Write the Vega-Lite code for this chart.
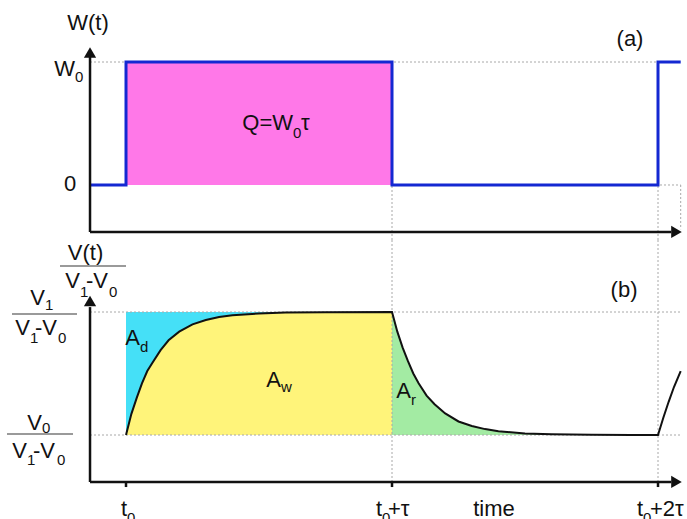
{
  "$schema": "https://vega.github.io/schema/vega-lite/v6.json",
  "autosize": {"type": "pad"},
  "padding": 0,
  "spacing": 0,
  "bounds": "flush",
  "background": "white",
  "config": {"view": {"stroke": null}},
  "resolve": {"scale": {"x": "independent", "y": "independent"}},
  "datasets": {
    "pulse": [{"t": 0, "t2": 1, "y": 0, "y2": 1}],
    "W": [
      {"t": -0.1353, "y": 0},
      {"t": 0, "y": 1},
      {"t": 1, "y": 0},
      {"t": 2, "y": 1},
      {"t": 2.0853, "y": 1}
    ],
    "guidesA": [
      {"t": -0.1353, "t2": 2.0853, "y": 1, "y2": 1},
      {"t": 1, "t2": 2.0853, "y": 0, "y2": 0},
      {"t": 1, "t2": 1, "y": 1, "y2": -0.4472},
      {"t": 2, "t2": 2, "y": 1, "y2": -0.4472},
      {"t": 2.0853, "t2": 2.0853, "y": 0, "y2": -0.36}
    ],
    "axesA": [
      {"t": -0.1353, "t2": -0.1353, "y": -0.382, "y2": 1.05},
      {"t": -0.1353, "t2": 2.05, "y": -0.382, "y2": -0.382}
    ],
    "centerA": [
      {"t": -0.1429, "y": 1.26, "text": "W(t)"},
      {"t": -0.2105, "y": -0.049, "text": "0"},
      {"t": 1.8947, "y": 1.13, "text": "(a)"}
    ],
    "mainA": [
      {"t": -0.1917, "y": 0.886, "text": "W"},
      {"t": 0.6278, "y": 0.447, "text": "Q=W"}
    ],
    "subA": [
      {"t": -0.1917, "y": 0.837, "text": "0"},
      {"t": 0.6278, "y": 0.382, "text": "0"}
    ],
    "contA": [
      {"t": 0.6579, "y": 0.447, "text": "τ"}
    ],
    "fill": [{"t": 0, "t2": 1, "y": 0, "y2": 1}],
    "V": [
      {"t": 0, "y": 0, "phase": "rise"},
      {"t": 0.02, "y": 0.17, "phase": "rise"},
      {"t": 0.04, "y": 0.3, "phase": "rise"},
      {"t": 0.06, "y": 0.42, "phase": "rise"},
      {"t": 0.08, "y": 0.52, "phase": "rise"},
      {"t": 0.1, "y": 0.59, "phase": "rise"},
      {"t": 0.13, "y": 0.69, "phase": "rise"},
      {"t": 0.16, "y": 0.77, "phase": "rise"},
      {"t": 0.2, "y": 0.84, "phase": "rise"},
      {"t": 0.25, "y": 0.9, "phase": "rise"},
      {"t": 0.3, "y": 0.935, "phase": "rise"},
      {"t": 0.35, "y": 0.96, "phase": "rise"},
      {"t": 0.4, "y": 0.973, "phase": "rise"},
      {"t": 0.5, "y": 0.988, "phase": "rise"},
      {"t": 0.6, "y": 0.995, "phase": "rise"},
      {"t": 0.75, "y": 0.999, "phase": "rise"},
      {"t": 1.0, "y": 1.0, "phase": "rise"},
      {"t": 1.0, "y": 1.0, "phase": "decay"},
      {"t": 1.02, "y": 0.84, "phase": "decay"},
      {"t": 1.04, "y": 0.71, "phase": "decay"},
      {"t": 1.06, "y": 0.6, "phase": "decay"},
      {"t": 1.08, "y": 0.5, "phase": "decay"},
      {"t": 1.1, "y": 0.42, "phase": "decay"},
      {"t": 1.13, "y": 0.32, "phase": "decay"},
      {"t": 1.16, "y": 0.25, "phase": "decay"},
      {"t": 1.2, "y": 0.175, "phase": "decay"},
      {"t": 1.25, "y": 0.11, "phase": "decay"},
      {"t": 1.3, "y": 0.073, "phase": "decay"},
      {"t": 1.35, "y": 0.048, "phase": "decay"},
      {"t": 1.4, "y": 0.031, "phase": "decay"},
      {"t": 1.5, "y": 0.013, "phase": "decay"},
      {"t": 1.6, "y": 0.006, "phase": "decay"},
      {"t": 1.75, "y": 0.0015, "phase": "decay"},
      {"t": 1.9, "y": 0, "phase": "rest"},
      {"t": 2.0, "y": 0, "phase": "rest"},
      {"t": 2.02, "y": 0.14, "phase": "rise2"},
      {"t": 2.04, "y": 0.27, "phase": "rise2"},
      {"t": 2.06, "y": 0.39, "phase": "rise2"},
      {"t": 2.0853, "y": 0.52, "phase": "rise2"}
    ],
    "guidesB": [
      {"t": -0.1353, "t2": 2.0853, "y": 1, "y2": 1},
      {"t": -0.1353, "t2": 2.0853, "y": 0, "y2": 0},
      {"t": 1, "t2": 1, "y": 1.5854, "y2": -0.382},
      {"t": 2, "t2": 2, "y": 1.5854, "y2": -0.382}
    ],
    "axesB": [
      {"t": -0.1353, "t2": -0.1353, "y": -0.382, "y2": 1.04},
      {"t": -0.1353, "t2": 2.05, "y": -0.382, "y2": -0.382},
      {"t": 0, "t2": 0, "y": -0.382, "y2": -0.423},
      {"t": 1, "t2": 1, "y": -0.382, "y2": -0.423},
      {"t": 2, "t2": 2, "y": -0.382, "y2": -0.423}
    ],
    "bars": [
      {"t": -0.2481, "t2": 0, "y": 1.374, "y2": 1.374},
      {"t": -0.4286, "t2": -0.1842, "y": 0.984, "y2": 0.984},
      {"t": -0.4474, "t2": -0.1992, "y": 0.008, "y2": 0.008}
    ],
    "centerB": [
      {"t": -0.1523, "y": 1.4228, "text": "V(t)"},
      {"t": 1.8722, "y": 1.122, "text": "(b)"},
      {"t": 1.3835, "y": -0.6585, "text": "time"}
    ],
    "mainB": [
      {"t": -0.1729, "y": 1.195, "text": "V"},
      {"t": -0.3045, "y": 1.057, "text": "V"},
      {"t": -0.3609, "y": 0.813, "text": "V"},
      {"t": -0.3158, "y": 0.0407, "text": "V"},
      {"t": -0.3722, "y": -0.187, "text": "V"},
      {"t": 0.0526, "y": 0.732, "text": "A"},
      {"t": 0.5827, "y": 0.39, "text": "A"},
      {"t": 1.0714, "y": 0.301, "text": "A"},
      {"t": 0.0038, "y": -0.6585, "text": "t"},
      {"t": 0.9624, "y": -0.6585, "text": "t"},
      {"t": 1.9436, "y": -0.6585, "text": "t"}
    ],
    "subB": [
      {"t": -0.1729, "y": 1.122, "text": "1"},
      {"t": -0.0639, "y": 1.122, "text": "0"},
      {"t": -0.3045, "y": 1.016, "text": "1"},
      {"t": -0.3609, "y": 0.752, "text": "1"},
      {"t": -0.2556, "y": 0.752, "text": "0"},
      {"t": -0.3158, "y": 0.0163, "text": "0"},
      {"t": -0.3722, "y": -0.244, "text": "1"},
      {"t": -0.2594, "y": -0.244, "text": "0"},
      {"t": 0.0526, "y": 0.675, "text": "d"},
      {"t": 0.5827, "y": 0.35, "text": "w"},
      {"t": 1.0714, "y": 0.244, "text": "r"},
      {"t": 0.0038, "y": -0.715, "text": "0"},
      {"t": 0.9624, "y": -0.715, "text": "0"},
      {"t": 1.9436, "y": -0.715, "text": "0"}
    ],
    "contB": [
      {"t": -0.1504, "y": 1.195, "text": "-V"},
      {"t": -0.3421, "y": 0.813, "text": "-V"},
      {"t": -0.3496, "y": -0.187, "text": "-V"},
      {"t": 0.985, "y": -0.6585, "text": "+τ"},
      {"t": 1.9699, "y": -0.6585, "text": "+2τ"}
    ]
  },
  "vconcat": [
    {
      "width": 687,
      "height": 240,
      "encoding": {
        "x": {"field": "t", "type": "quantitative", "scale": {"domain": [-0.4737, 2.109], "nice": false, "zero": false}, "axis": null},
        "y": {"field": "y", "type": "quantitative", "scale": {"domain": [-0.4472, 1.5041], "nice": false, "zero": false}, "axis": null}
      },
      "layer": [
        {"data": {"name": "pulse"}, "mark": {"type": "rect", "color": "#ff78e8"}, "encoding": {"x2": {"field": "t2"}, "y2": {"field": "y2"}}},
        {"data": {"name": "guidesA"}, "mark": {"type": "rule", "color": "#a8a8a8", "strokeWidth": 1, "strokeDash": [2, 2]}, "encoding": {"x2": {"field": "t2"}, "y2": {"field": "y2"}}},
        {"data": {"name": "W"}, "mark": {"type": "line", "interpolate": "step-after", "color": "#1428d2", "strokeWidth": 3}, "encoding": {}},
        {"data": {"name": "axesA"}, "mark": {"type": "rule", "color": "#111111", "strokeWidth": 2.5}, "encoding": {"x2": {"field": "t2"}, "y2": {"field": "y2"}}},
        {"data": {"values": [{"t": -0.1353, "y": 1.077}]}, "mark": {"type": "point", "shape": "triangle-up", "filled": true, "size": 150, "color": "#111111", "opacity": 1}, "encoding": {}},
        {"data": {"values": [{"t": 2.0695, "y": -0.382}]}, "mark": {"type": "point", "shape": "triangle-right", "filled": true, "size": 150, "color": "#111111", "opacity": 1}, "encoding": {}},
        {"data": {"name": "centerA"}, "mark": {"type": "text", "font": "Liberation Sans", "fontSize": 22, "align": "center", "baseline": "alphabetic", "color": "#111111"}, "encoding": {"text": {"field": "text"}}},
        {"data": {"name": "mainA"}, "mark": {"type": "text", "font": "Liberation Sans", "fontSize": 22, "align": "right", "baseline": "alphabetic", "color": "#111111"}, "encoding": {"text": {"field": "text"}}},
        {"data": {"name": "subA"}, "mark": {"type": "text", "font": "Liberation Sans", "fontSize": 15, "align": "left", "baseline": "alphabetic", "color": "#111111"}, "encoding": {"text": {"field": "text"}}},
        {"data": {"name": "contA"}, "mark": {"type": "text", "font": "Liberation Sans", "fontSize": 22, "align": "left", "baseline": "alphabetic", "color": "#111111"}, "encoding": {"text": {"field": "text"}}}
      ]
    },
    {
      "width": 687,
      "height": 279,
      "encoding": {
        "x": {"field": "t", "type": "quantitative", "scale": {"domain": [-0.4737, 2.109], "nice": false, "zero": false}, "axis": null},
        "y": {"field": "y", "type": "quantitative", "scale": {"domain": [-0.6829, 1.5854], "nice": false, "zero": false}, "axis": null}
      },
      "layer": [
        {"data": {"name": "fill"}, "mark": {"type": "rect", "color": "#45e0f7"}, "encoding": {"x2": {"field": "t2"}, "y2": {"field": "y2"}}},
        {"data": {"name": "V"}, "transform": [{"filter": "datum.phase === 'rise'"}], "mark": {"type": "area", "color": "#fff47a", "opacity": 1}, "encoding": {"y2": {"datum": 0}}},
        {"data": {"name": "V"}, "transform": [{"filter": "datum.phase === 'decay'"}], "mark": {"type": "area", "color": "#a3eba3", "opacity": 1}, "encoding": {"y2": {"datum": 0}}},
        {"data": {"name": "guidesB"}, "mark": {"type": "rule", "color": "#a8a8a8", "strokeWidth": 1, "strokeDash": [2, 2]}, "encoding": {"x2": {"field": "t2"}, "y2": {"field": "y2"}}},
        {"data": {"name": "V"}, "mark": {"type": "line", "color": "#111111", "strokeWidth": 2}, "encoding": {}},
        {"data": {"name": "axesB"}, "mark": {"type": "rule", "color": "#111111", "strokeWidth": 2.5}, "encoding": {"x2": {"field": "t2"}, "y2": {"field": "y2"}}},
        {"data": {"values": [{"t": -0.1353, "y": 1.089}]}, "mark": {"type": "point", "shape": "triangle-up", "filled": true, "size": 150, "color": "#111111", "opacity": 1}, "encoding": {}},
        {"data": {"values": [{"t": 2.0695, "y": -0.382}]}, "mark": {"type": "point", "shape": "triangle-right", "filled": true, "size": 150, "color": "#111111", "opacity": 1}, "encoding": {}},
        {"data": {"name": "bars"}, "mark": {"type": "rule", "color": "#9a9a9a", "strokeWidth": 2}, "encoding": {"x2": {"field": "t2"}, "y2": {"field": "y2"}}},
        {"data": {"name": "centerB"}, "mark": {"type": "text", "font": "Liberation Sans", "fontSize": 22, "align": "center", "baseline": "alphabetic", "color": "#111111"}, "encoding": {"text": {"field": "text"}}},
        {"data": {"name": "mainB"}, "mark": {"type": "text", "font": "Liberation Sans", "fontSize": 22, "align": "right", "baseline": "alphabetic", "color": "#111111"}, "encoding": {"text": {"field": "text"}}},
        {"data": {"name": "subB"}, "mark": {"type": "text", "font": "Liberation Sans", "fontSize": 15, "align": "left", "baseline": "alphabetic", "color": "#111111"}, "encoding": {"text": {"field": "text"}}},
        {"data": {"name": "contB"}, "mark": {"type": "text", "font": "Liberation Sans", "fontSize": 22, "align": "left", "baseline": "alphabetic", "color": "#111111"}, "encoding": {"text": {"field": "text"}}}
      ]
    }
  ]
}
